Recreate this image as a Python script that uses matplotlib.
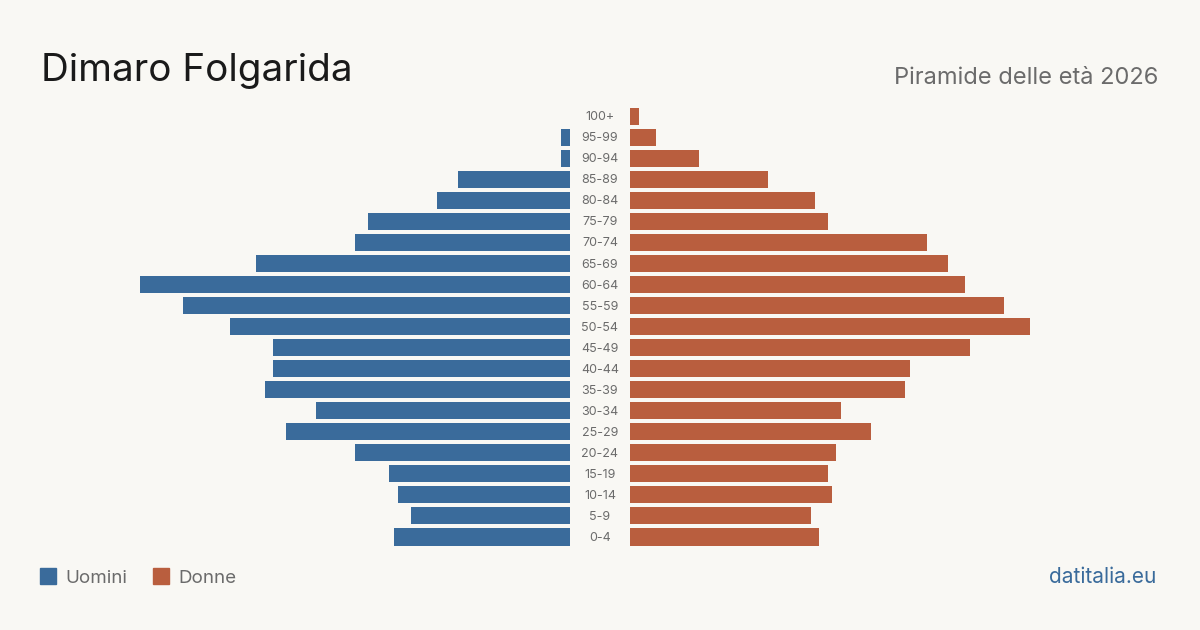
import matplotlib
matplotlib.use('Agg')
import matplotlib.pyplot as plt
from matplotlib.patches import Rectangle

# fasce d'età, dal basso verso l'alto
eta = ['0-4', '5-9', '10-14', '15-19', '20-24', '25-29', '30-34', '35-39',
       '40-44', '45-49', '50-54', '55-59', '60-64', '65-69', '70-74',
       '75-79', '80-84', '85-89', '90-94', '95-99', '100+']
uomini = [20.5, 18.5, 20, 21, 25, 33, 29.5, 35.5, 34.5, 34.5, 39.5, 45, 50,
          36.5, 25, 23.5, 15.5, 13, 1, 1, 0]
donne = [22, 21, 23.5, 23, 24, 28, 24.5, 32, 32.5, 39.5, 46.5, 43.5, 39,
         37, 34.5, 23, 21.5, 16, 8, 3, 1]

BG = '#f9f8f4'
BLU = '#3a6b9b'
ARANCIO = '#b95e3e'
GRIGIO = '#6b6b6b'

plt.rcParams['font.family'] = ['Inter', 'DejaVu Sans']

fig = plt.figure(figsize=(12, 6.3), dpi=100, facecolor=BG)
W, H = 1200, 630

# assi: verticale 106..547.5 px, sinistra 140..570, destra 630..1060
bottom = (H - 547.5) / H
height = (547.5 - 106) / H
max_val = max(max(uomini), max(donne))
larg = 430 / W

ax_m = fig.add_axes([140 / W, bottom, larg, height])
ax_f = fig.add_axes([630 / W, bottom, larg, height])

y = list(range(len(eta)))
ax_m.barh(y, uomini, height=0.81, color=BLU)
ax_f.barh(y, donne, height=0.81, color=ARANCIO)

ax_m.set_xlim(max_val, 0)
ax_f.set_xlim(0, max_val)
for ax in (ax_m, ax_f):
    ax.set_ylim(-0.5, len(eta) - 0.5)
    ax.axis('off')
    ax.set_facecolor('none')

# etichette delle fasce al centro
ax_lab = fig.add_axes([570 / W, bottom, 60 / W, height])
ax_lab.set_xlim(0, 1)
ax_lab.set_ylim(-0.5, len(eta) - 0.5)
ax_lab.axis('off')
for i, lab in enumerate(eta):
    ax_lab.text(0.5, i - 0.04, lab, ha='center', va='center', fontsize=9, color=GRIGIO)

# titolo e sottotitolo
fig.text(41 / W, 1 - 81 / H, 'Dimaro Folgarida', fontsize=27.8, color='#1a1a1a',
         ha='left', va='baseline')
fig.text(1158 / W, 1 - 84 / H, 'Piramide delle età 2026', fontsize=17,
         color=GRIGIO, ha='right', va='baseline')

# legenda
fig.patches.append(Rectangle((40 / W, 1 - 584 / H), 16 / W, 16 / H,
                             transform=fig.transFigure, color=BLU))
fig.text(65 / W, 1 - 583 / H, 'Uomini', fontsize=13.5, color=GRIGIO,
         ha='left', va='baseline')
fig.patches.append(Rectangle((153 / W, 1 - 584 / H), 16 / W, 16 / H,
                             transform=fig.transFigure, color=ARANCIO))
fig.text(178 / W, 1 - 583 / H, 'Donne', fontsize=13.5, color=GRIGIO,
         ha='left', va='baseline')

fig.text(1156 / W, 1 - 583 / H, 'datitalia.eu', fontsize=15, color=BLU,
         ha='right', va='baseline')

fig.savefig('out.png', dpi=100, facecolor=BG)
